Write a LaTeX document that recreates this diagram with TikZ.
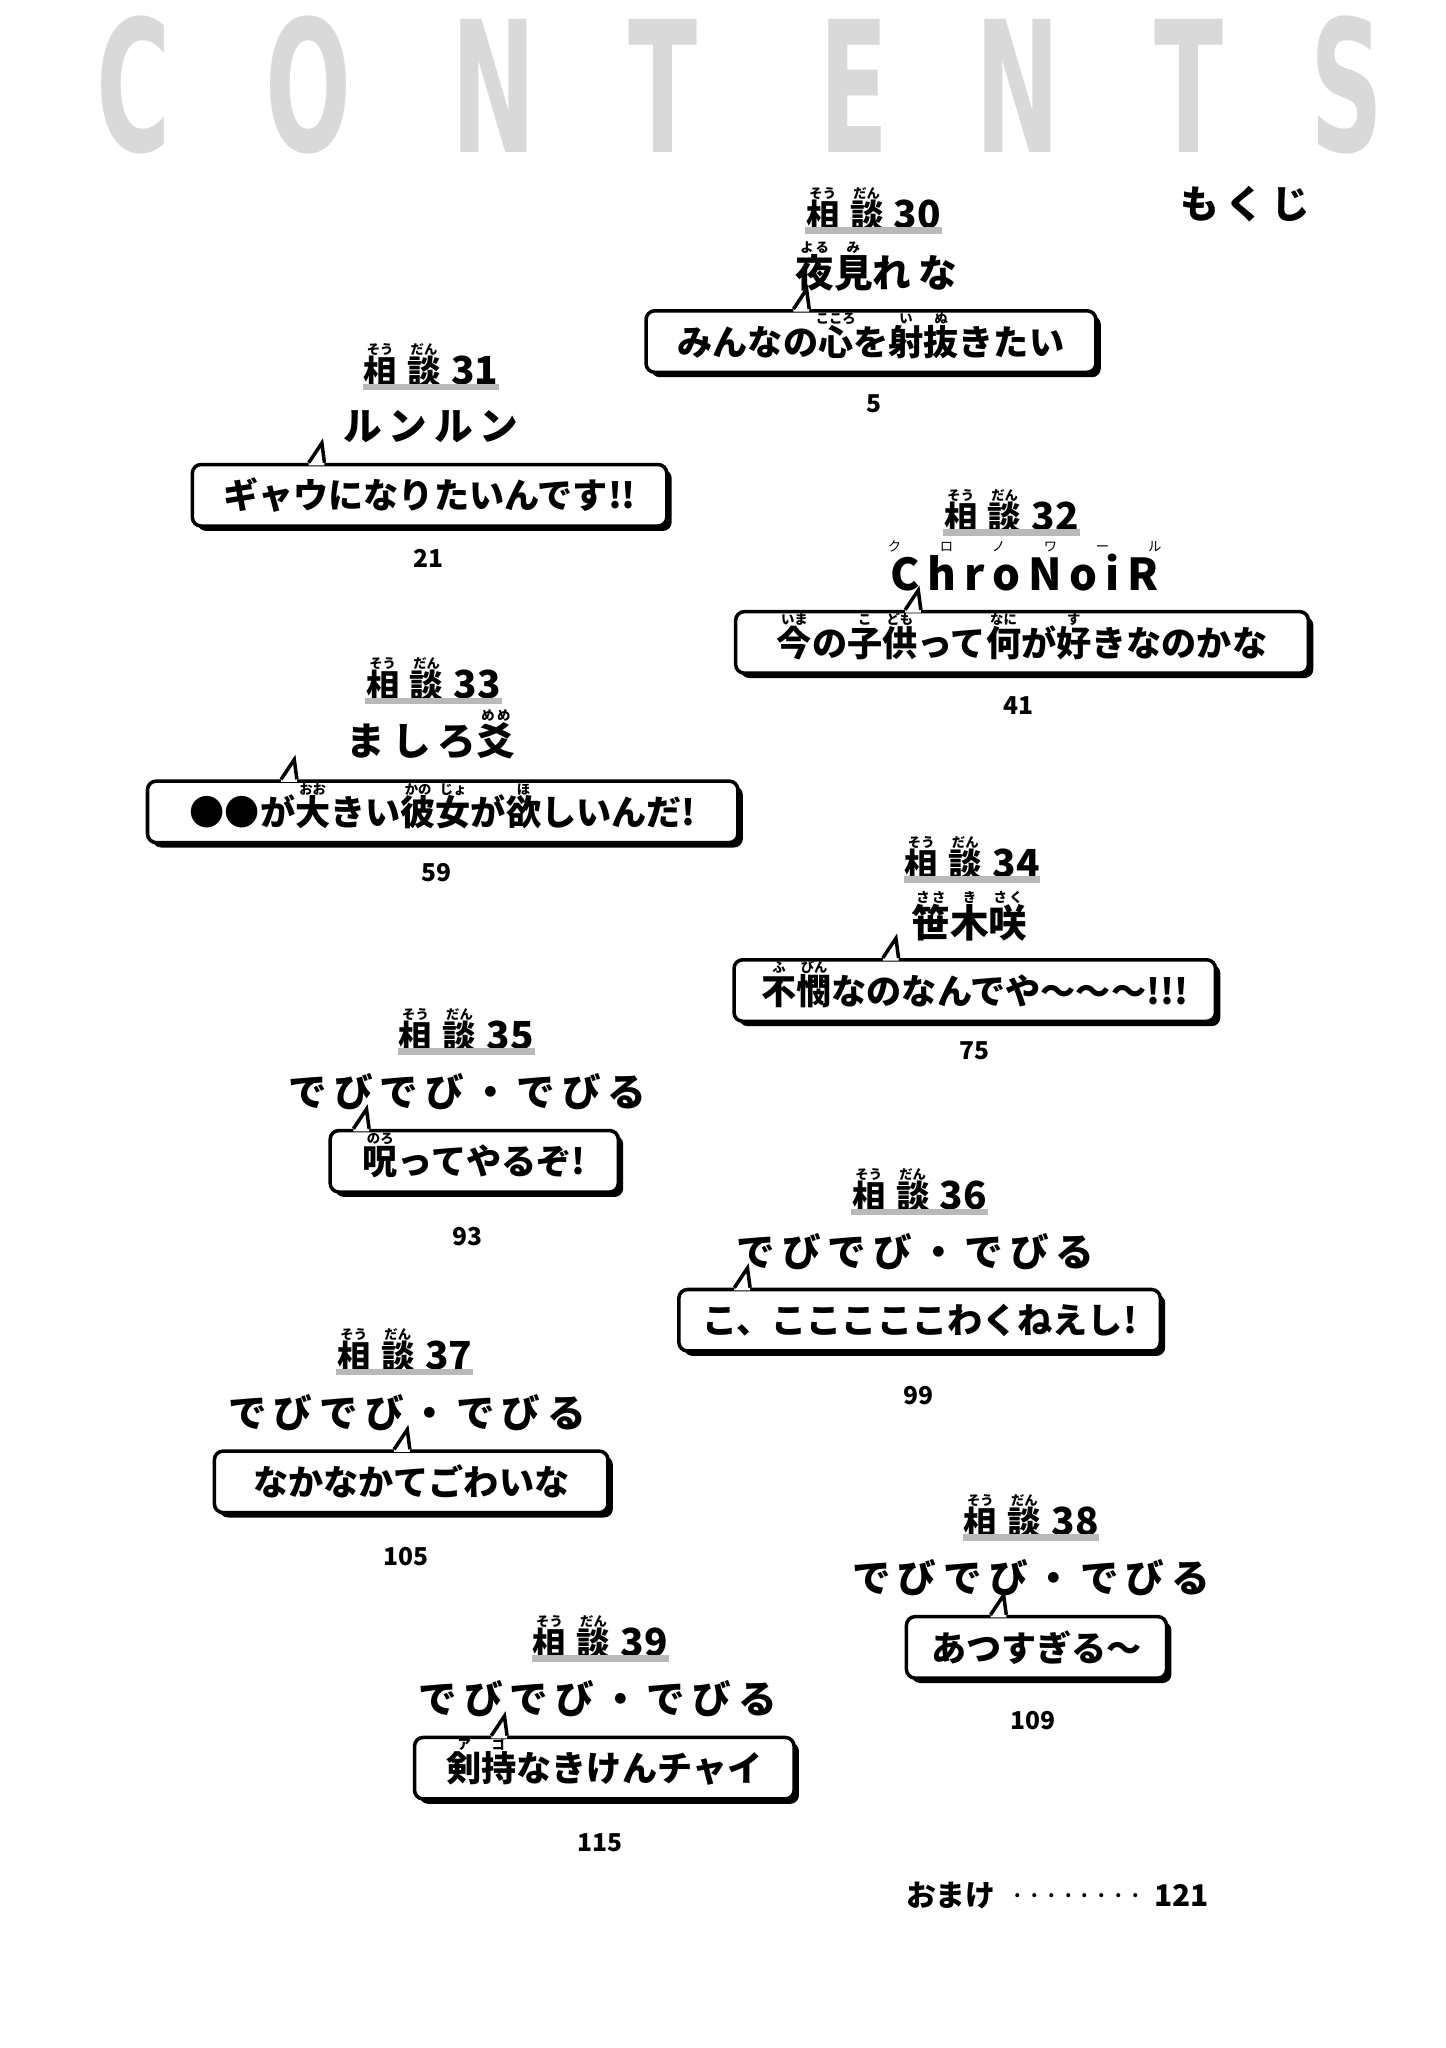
\documentclass[tikz,border=0pt]{standalone}
\usepackage{fontspec}
\setmainfont{Noto Sans CJK JP}[BoldFont={Noto Sans CJK JP Black}]
\newfontfamily\wide{Noto Sans CJK JP}[BoldFont={Noto Sans CJK JP Black},LetterSpace=18]
\newfontfamily\stencil{DejaVu Sans}
\usetikzlibrary{positioning}
\usetikzlibrary{calc}
\usetikzlibrary{shadows}
\newcommand\rb[2]{\ooalign{#1\cr\hidewidth\smash{\raisebox{0.9em}{\fontsize{3.8}{4}\selectfont #2}}\hidewidth\cr}}
\newcommand\bubtail[2]{%
  \fill[white] (#1.north -| #2,0) -- ++(10,-15) -- ++(2,15) -- ++(0,2) -- ++(-12,0) -- cycle;
  \draw[tail] (#1.north -| #2,0) -- ++(10,-15) -- ++(2,15);}
\begin{document}
\begin{tikzpicture}[x=0.013136cm, y=-0.013136cm,
        ttl/.style={font=\fontsize{9.5}{10}\selectfont\bfseries, inner sep=0pt},
        nm/.style={font=\fontsize{11}{12}\selectfont\wide\bfseries, inner sep=0pt},
        bub/.style={draw, line width=1pt, rounded corners=2.5pt, fill=white, inner sep=0pt,
            minimum height=17.5pt, font=\fontsize{10}{11}\selectfont\bfseries,
            drop shadow={shadow xshift=1.4pt, shadow yshift=-1.4pt, opacity=1, fill=black}},
        pg/.style={font=\fontsize{7}{8}\selectfont\bfseries},
        tail/.style={draw, line width=1pt, line join=miter},
        bar/.style={line width=1.8pt, draw=gray!55},
        big/.style={font=\fontsize{40}{40}\selectfont\stencil\bfseries, text=gray!30, xscale=0.72, yscale=1.3},
    ]
    \useasboundingbox (0,0) rectangle (1100,1559);

    % heading
    \foreach \ch/\cx [count=\i] in {C/102, O/235, N/376, T/505, E/650, N/775, T/905, S/1025}
        \node[big] (head\i) at (\cx,65) {\ch};
    \node[nm] (mokuji) at (948,155) {もくじ};

    % 30
    \node[ttl] (t30) at (665,163) {\rb{相}{そう}\hspace{3pt}\rb{談}{だん}\hspace{3pt}\fontsize{11}{12}\selectfont 30};
    \draw[bar] ([yshift=-0.3pt]t30.south west) -- ([yshift=-0.3pt]t30.south east);
    \node[nm] (n30) at (667,207) {\rb{夜}{よる}\rb{見}{み}れな};
    \node[bub, minimum width=128pt] (b30) at (663,260) {みんなの\rb{心}{こころ}を\rb{射}{い}\rb{抜}{ぬ}きたい};
    \bubtail{b30}{604}
    \node[pg] (p30) at (665,307) {5};

    % 31
    \node[ttl] (t31) at (328,282) {\rb{相}{そう}\hspace{3pt}\rb{談}{だん}\hspace{3pt}\fontsize{11}{12}\selectfont 31};
    \draw[bar] ([yshift=-0.3pt]t31.south west) -- ([yshift=-0.3pt]t31.south east);
    \node[nm] (n31) at (328,325) {ルンルン};
    \node[bub, minimum width=135pt] (b31) at (327,377) {ギャウになりたいんです!!};
    \bubtail{b31}{235}
    \node[pg] (p31) at (326,425) {21};

    % 32
    \node[ttl] (t32) at (770,393) {\rb{相}{そう}\hspace{3pt}\rb{談}{だん}\hspace{3pt}\fontsize{11}{12}\selectfont 32};
    \draw[bar] ([yshift=-0.3pt]t32.south west) -- ([yshift=-0.3pt]t32.south east);
    \node[nm, font=\fontsize{12.5}{13}\selectfont\wide\bfseries] (n32) at (780,436) {ChroNoiR};
    \node[font=\fontsize{3.8}{4}\selectfont, inner sep=0pt] (r32) at (780,416) {ク\hspace{11pt}ロ\hspace{11pt}ノ\hspace{11pt}ワ\hspace{11pt}ー\hspace{11pt}ル};
    \node[bub, minimum width=163pt] (b32) at (778,489) {\rb{今}{いま}の\rb{子}{こ}\rb{供}{ども}って\rb{何}{なに}が\rb{好}{す}きなのかな};
    \bubtail{b32}{689}
    \node[pg] (p32) at (775,537) {41};

    % 33
    \node[ttl] (t33) at (330,521) {\rb{相}{そう}\hspace{3pt}\rb{談}{だん}\hspace{3pt}\fontsize{11}{12}\selectfont 33};
    \draw[bar] ([yshift=-0.3pt]t33.south west) -- ([yshift=-0.3pt]t33.south east);
    \node[nm] (n33) at (328,564) {ましろ\rb{爻}{めめ}};
    \node[bub, minimum width=168pt] (b33) at (337,618) {●●が\rb{大}{おお}きい\rb{彼}{かの}\rb{女}{じょ}が\rb{欲}{ほ}しいんだ!};
    \bubtail{b33}{214}
    \node[pg] (p33) at (332,664) {59};

    % 34
    \node[ttl] (t34) at (740,657) {\rb{相}{そう}\hspace{3pt}\rb{談}{だん}\hspace{3pt}\fontsize{11}{12}\selectfont 34};
    \draw[bar] ([yshift=-0.3pt]t34.south west) -- ([yshift=-0.3pt]t34.south east);
    \node[nm] (n34) at (738,701) {\rb{笹}{ささ}\rb{木}{き}\rb{咲}{さく}};
    \node[bub, minimum width=137pt] (b34) at (742,754) {\rb{不}{ふ}\rb{憫}{びん}なのなんでや〜〜〜!!!};
    \bubtail{b34}{672}
    \node[pg] (p34) at (742,800) {75};

    % 35
    \node[ttl] (t35) at (355,788) {\rb{相}{そう}\hspace{3pt}\rb{談}{だん}\hspace{3pt}\fontsize{11}{12}\selectfont 35};
    \draw[bar] ([yshift=-0.3pt]t35.south west) -- ([yshift=-0.3pt]t35.south east);
    \node[nm] (n35) at (356,831) {でびでび・でびる};
    \node[bub, minimum width=82pt] (b35) at (361,884) {\rb{呪}{のろ}ってやるぞ!};
    \bubtail{b35}{269}
    \node[pg] (p35) at (356,941) {93};

    % 36
    \node[ttl] (t36) at (700,910) {\rb{相}{そう}\hspace{3pt}\rb{談}{だん}\hspace{3pt}\fontsize{11}{12}\selectfont 36};
    \draw[bar] ([yshift=-0.3pt]t36.south west) -- ([yshift=-0.3pt]t36.south east);
    \node[nm] (n36) at (697,953) {でびでび・でびる};
    \node[bub, minimum width=137pt] (b36) at (700,1005) {こ、こここここわくねえし!};
    \bubtail{b36}{559}
    \node[pg] (p36) at (699,1062) {99};

    % 37
    \node[ttl] (t37) at (308,1032) {\rb{相}{そう}\hspace{3pt}\rb{談}{だん}\hspace{3pt}\fontsize{11}{12}\selectfont 37};
    \draw[bar] ([yshift=-0.3pt]t37.south west) -- ([yshift=-0.3pt]t37.south east);
    \node[nm] (n37) at (310,1075) {でびでび・でびる};
    \node[bub, minimum width=112pt] (b37) at (313,1128) {なかなかてごわいな};
    \bubtail{b37}{300}
    \node[pg] (p37) at (309,1185) {105};

    % 38
    \node[ttl] (t38) at (785,1158) {\rb{相}{そう}\hspace{3pt}\rb{談}{だん}\hspace{3pt}\fontsize{11}{12}\selectfont 38};
    \draw[bar] ([yshift=-0.3pt]t38.south west) -- ([yshift=-0.3pt]t38.south east);
    \node[nm] (n38) at (785,1201) {でびでび・でびる};
    \node[bub, minimum width=74pt] (b38) at (789,1254) {あつすぎる〜};
    \bubtail{b38}{754}
    \node[pg] (p38) at (786,1310) {109};

    % 39
    \node[ttl] (t39) at (457,1250) {\rb{相}{そう}\hspace{3pt}\rb{談}{だん}\hspace{3pt}\fontsize{11}{12}\selectfont 39};
    \draw[bar] ([yshift=-0.3pt]t39.south west) -- ([yshift=-0.3pt]t39.south east);
    \node[nm] (n39) at (455,1293) {でびでび・でびる};
    \node[bub, minimum width=108pt] (b39) at (460,1346) {\rb{剣持}{ア\hspace{6pt}ゴ}なきけんチャイ};
    \bubtail{b39}{374}
    \node[pg] (p39) at (457,1403) {115};

    % extra
    \node[font=\fontsize{8.5}{9}\selectfont\bfseries] (omake) at (805,1443) {おまけ\hspace{4pt}{\mdseries ········}\hspace{3pt}121};
\end{tikzpicture}
\end{document}
